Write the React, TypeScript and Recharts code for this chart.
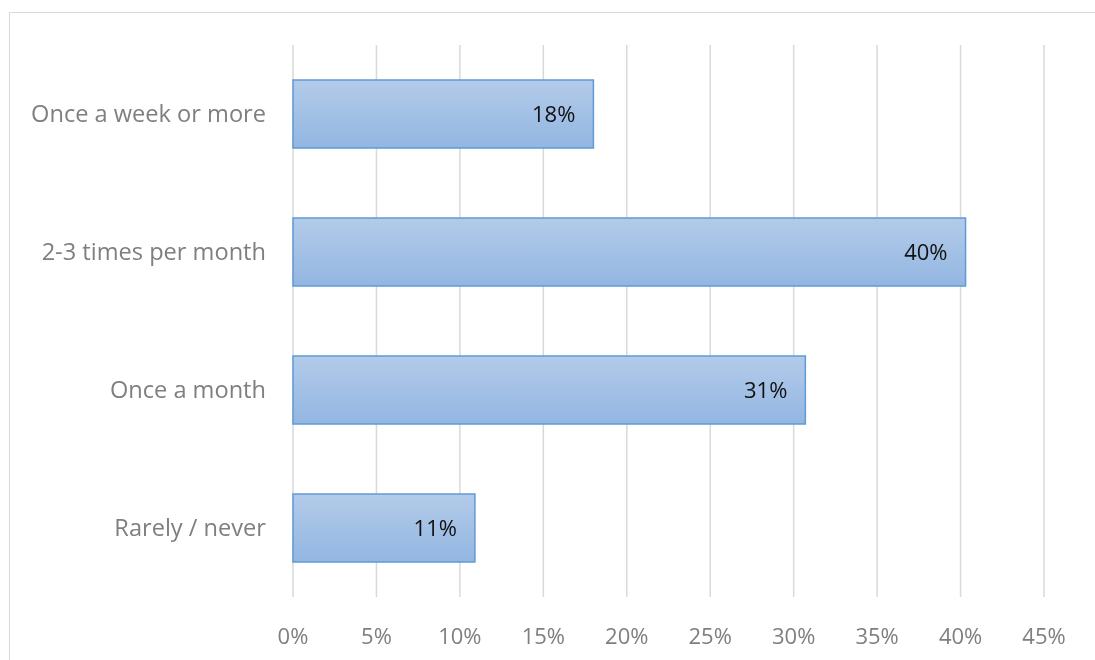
import { BarChart, Bar, XAxis, YAxis, CartesianGrid, LabelList } from "recharts";

const categories = ["Once a week or more", "2-3 times per month", "Once a month", "Rarely / never"];
const shares = [18.0, 40.3, 30.7, 10.9];
const xTicks = [0, 5, 10, 15, 20, 25, 30, 35, 40, 45];

const chartData = categories.map((name, i) => ({ name, share: shares[i] }));

const FONT = "'Open Sans', Lato, sans-serif";

export default function App() {
  return (
    <div style={{ position: "relative", width: 1079, height: 644, fontFamily: FONT }}>
      {/* outer chart frame, runs off the right and bottom edges */}
      <div
        style={{
          position: "fixed",
          left: 9,
          top: 12,
          right: -20,
          bottom: -20,
          border: "1px solid #d9d9d9",
        }}
      />
      <div style={{ position: "absolute", left: 0, top: 0 }}>
        <BarChart
          layout="vertical"
          width={1079}
          height={644}
          data={chartData}
          margin={{ top: 37, right: 43, bottom: 0, left: 0 }}
          barSize={68}
        >
          <defs>
            <linearGradient id="barFill" x1="0" y1="0" x2="0" y2="1">
              <stop offset="0%" stopColor="#b3cbe9" />
              <stop offset="100%" stopColor="#93b6e2" />
            </linearGradient>
          </defs>
          <CartesianGrid horizontal={false} stroke="#d9d9d9" strokeWidth={1.5} />
          <XAxis
            type="number"
            domain={[0, 45]}
            ticks={xTicks}
            tickFormatter={(v: number) => `${v}%`}
            axisLine={false}
            tickLine={false}
            tickSize={0}
            tickMargin={31}
            height={55}
            tick={{ fill: "#7f7f7f", fontSize: 22, fontFamily: FONT }}
            interval={0}
          />
          <YAxis
            type="category"
            dataKey="name"
            width={285}
            axisLine={false}
            tickLine={false}
            tickSize={0}
            tickMargin={27}
            tick={{ fill: "#7f7f7f", fontSize: 23.6, fontFamily: FONT }}
            interval={0}
          />
          <Bar dataKey="share" fill="url(#barFill)" stroke="#5f9bd6" strokeWidth={1.5} isAnimationActive={false}>
            <LabelList
              dataKey="share"
              position="insideRight"
              offset={18}
              formatter={(v: number) => `${Math.round(v)}%`}
              style={{ fill: "#111", fontSize: 22, fontFamily: FONT }}
            />
          </Bar>
        </BarChart>
      </div>
    </div>
  );
}
